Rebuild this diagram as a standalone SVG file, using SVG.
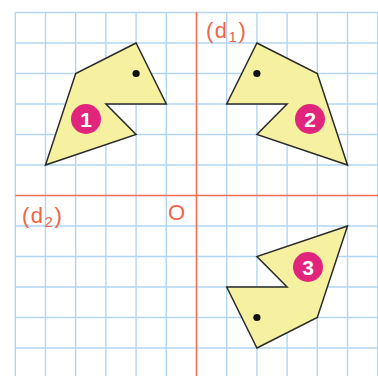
<svg xmlns="http://www.w3.org/2000/svg" width="378" height="376" viewBox="0 0 378 376">
<style>
.g{stroke:#b2d6f2;stroke-width:1.4;fill:none}
.ax{stroke:#f07050;stroke-width:1.6;fill:none}
.shape{fill:#f6f1a0;stroke:#2a2a2a;stroke-width:1.5;stroke-linejoin:miter}
.dot{fill:#111}
.badge{fill:#e2257c}
.num{fill:#fff;font-family:"Liberation Sans",Arial,sans-serif;font-weight:bold;font-size:21px;text-anchor:middle}
.lbl{fill:#ef6448;font-family:"Liberation Sans",Arial,sans-serif;font-size:22px}
</style>
<rect width="378" height="376" fill="#fff"/>
<g id="grid">
<path class="g" d="M15.3 12.5V376M45.5 12.5V376M75.7 12.5V376M105.9 12.5V376M136.1 12.5V376M166.3 12.5V376M226.7 12.5V376M256.9 12.5V376M287.1 12.5V376M317.3 12.5V376M347.5 12.5V376M377.7 12.5V376"/>
<path class="g" d="M15.3 12.5H378M15.3 43H378M15.3 73.5H378M15.3 104H378M15.3 134.5H378M15.3 165H378M15.3 226H378M15.3 256.5H378M15.3 287H378M15.3 317.5H378M15.3 348H378"/>
</g>
<g id="axes">
<path class="ax" d="M196.5 12V376"/>
<path class="ax" d="M15.3 195.5H378"/>
</g>
<g id="shape1">
<polygon class="shape" points="136.1,43 75.7,73.5 45.5,165 136.1,134.5 105.9,104 166.3,104"/>
<circle class="dot" cx="136.1" cy="73.5" r="3.6"/>
<circle class="badge" cx="86" cy="119" r="15"/>
<text class="num" x="86" y="126.5">1</text>
</g>
<g id="shape2">
<polygon class="shape" points="256.9,43 317.3,73.5 347.5,165 256.9,134.5 287.1,104 226.7,104"/>
<circle class="dot" cx="256.9" cy="73.5" r="3.6"/>
<circle class="badge" cx="310" cy="119" r="15"/>
<text class="num" x="310" y="126.5">2</text>
</g>
<g id="shape3">
<polygon class="shape" points="256.9,348 317.3,317.5 347.5,226 256.9,256.5 287.1,287 226.7,287"/>
<circle class="dot" cx="256.9" cy="317.5" r="3.6"/>
<circle class="badge" cx="308" cy="267" r="15"/>
<text class="num" x="308" y="274.5">3</text>
</g>
<g id="labels">
<text class="lbl" x="206" y="38" letter-spacing="1.5">(d<tspan font-size="15" dy="4">1</tspan><tspan dy="-4">)</tspan></text>
<text class="lbl" x="22" y="223" letter-spacing="1.5">(d<tspan font-size="15" dy="4">2</tspan><tspan dy="-4">)</tspan></text>
<text class="lbl" x="168" y="220" font-size="23">O</text>
</g>
</svg>
